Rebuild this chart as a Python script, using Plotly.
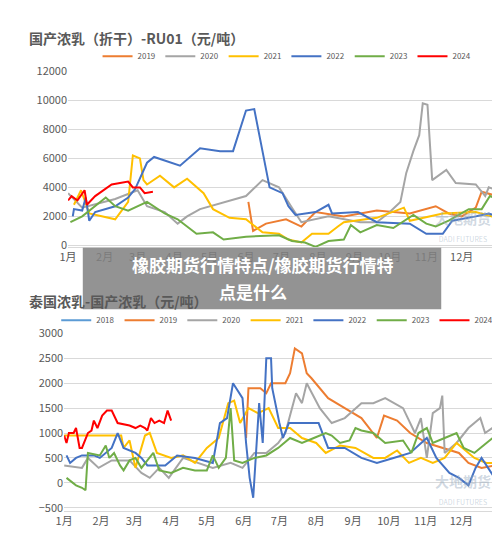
import plotly.graph_objects as go

# x = day of year, y = value
MONTH_DAYS = [0, 31, 59, 90, 120, 151, 181, 212, 243, 273, 304, 334]
MONTH_LABELS = ['1月', '2月', '3月', '4月', '5月', '6月', '7月', '8月', '9月', '10月', '11月', '12月']

COLORS = {'2018': '#5B9BD5', '2019': '#ED7D31', '2020': '#A5A5A5', '2021': '#FFC000',
          '2022': '#4472C4', '2023': '#70AD47', '2024': '#FF0000'}

# ---- top chart: 国产浓乳（折干）-RU01
top_2019_x = [153, 157, 168, 185, 198, 210, 234, 262, 290, 312, 323, 334, 346, 351, 364]
top_2019_y = [3000, 1000, 1500, 1800, 1300, 2300, 2000, 2400, 2200, 2700, 2200, 2000, 2600, 3700, 3400]
top_2020_x = [0, 12, 40, 59, 67, 82, 93, 101, 112, 129, 151, 165, 179, 190, 198, 221, 234, 248, 262,
              273, 282, 287, 293, 298, 301, 305, 309, 318, 321, 329, 346, 354, 357, 364]
top_2020_y = [3600, 2600, 3200, 3800, 2700, 2300, 1500, 2000, 2500, 2900, 3400, 4500, 4000, 2600, 1600,
              2000, 1800, 1600, 1600, 2300, 3000, 5000, 6500, 7600, 9800, 9700, 4500, 5000, 5200, 4300,
              4200, 3400, 4000, 3800]
top_2021_x = [5, 11, 18, 40, 51, 55, 61, 64, 67, 78, 90, 101, 115, 123, 137, 151, 165, 179, 187, 198,
              207, 221, 229, 234, 262, 285, 290, 318, 346, 364]
top_2021_y = [2800, 3800, 2200, 1800, 3000, 6200, 6000, 4500, 4200, 4800, 4000, 4600, 3600, 2500, 1900,
              1800, 900, 800, 400, 200, 800, 800, 1300, 1600, 1900, 2600, 1700, 2200, 2300, 1900]
top_2022_x = [4, 5, 12, 15, 18, 23, 40, 51, 57, 62, 67, 73, 95, 112, 129, 140, 151, 158, 164, 171, 182,
              187, 193, 210, 221, 224, 246, 262, 290, 304, 318, 326, 346, 357, 364]
top_2022_y = [2000, 2500, 2400, 3300, 1700, 2300, 2700, 3300, 3900, 4800, 5700, 6100, 5500, 6700, 6500,
              6500, 9300, 9400, 6800, 4000, 3600, 2700, 2100, 2300, 2800, 2200, 2300, 1600, 1500, 800,
              800, 1700, 2000, 2200, 2000]
top_2023_x = [2, 12, 32, 40, 51, 67, 82, 93, 109, 123, 132, 151, 179, 190, 201, 210, 221, 234, 240,
              248, 262, 276, 293, 304, 312, 323, 340, 351, 358, 364]
top_2023_y = [1600, 2000, 3300, 2700, 2400, 3000, 2200, 1800, 800, 900, 400, 600, 700, 300, 200, -100,
              300, 400, 1400, 900, 1400, 1200, 2100, 1500, 1300, 1700, 2500, 2500, 3400, 3200]
top_2024_x = [0, 3, 8, 14, 16, 23, 37, 51, 55, 61, 65, 72]
top_2024_y = [3100, 3400, 3100, 3800, 2800, 3400, 4200, 4400, 4000, 4000, 3600, 3700]

# ---- bottom chart: 泰国浓乳-国产浓乳
bot_2018_x = []
bot_2018_y = []
bot_2019_x = [153, 155, 165, 170, 174, 186, 190, 194, 200, 204, 208, 215, 222, 236, 250, 263, 269,
              280, 291, 305, 318, 332, 340, 351, 362]
bot_2019_y = [900, 1900, 1900, 1800, 2000, 2000, 2200, 2700, 2600, 2200, 2100, 1900, 1700, 1500, 1300,
              900, 1350, 1250, 1000, 800, 700, 600, 400, 300, 350]
bot_2020_x = [0, 15, 20, 29, 40, 55, 65, 72, 80, 88, 100, 112, 125, 140, 150, 160, 170, 180, 186, 195,
              200, 204, 215, 225, 236, 250, 260, 270, 285, 295, 300, 305, 310, 316, 318, 320, 330, 340,
              350, 354, 360, 364]
bot_2020_y = [350, 300, 500, 300, 450, 450, 200, 100, 300, 100, 500, 400, 300, 400, 300, 600, 600, 800,
              1000, 1800, 1600, 2000, 1500, 1200, 1300, 1600, 1600, 1700, 1500, 1000, 1300, 500, 1400,
              1500, 1750, 600, 800, 1100, 1300, 1000, 1100, 1000]
bot_2021_x = [0, 48, 50, 55, 60, 68, 72, 78, 90, 100, 110, 120, 130, 138, 143, 148, 155, 163, 172, 180,
              190, 200, 212, 220, 232, 245, 260, 270, 280, 290, 300, 310, 320, 330, 345, 355, 364]
bot_2021_y = [950, 950, 700, 850, 300, 950, 1000, 600, 500, 550, 400, 700, 900, 1600, 1650, 1200, 1500,
              1400, 1500, 1100, 1100, 900, 800, 600, 750, 700, 500, 500, 650, 400, 500, 400, 500, 800,
              500, 400, 400]
bot_2022_x = [2, 5, 10, 15, 25, 30, 40, 45, 50, 60, 65, 70, 85, 95, 110, 125, 131, 137, 142, 150, 153,
              156, 159, 164, 167, 170, 174, 175, 181, 184, 189, 214, 222, 236, 250, 263, 277, 291, 305,
              313, 324, 332, 340, 346, 351, 362]
bot_2022_y = [550, 400, 500, 550, 550, 500, 700, 1000, 700, 600, 500, 350, 350, 550, 500, 400, 1200,
              1300, 2000, 1700, 800, 100, -300, 1600, 800, 2500, 2500, 1900, 1200, 900, 1200, 1200, 700,
              700, 500, 400, 500, 600, 900, 500, 200, 100, -50, 300, 500, 100]
bot_2023_x = [2, 10, 15, 18, 20, 30, 35, 38, 42, 47, 50, 55, 60, 65, 70, 75, 80, 90, 100, 110, 120, 125,
              130, 136, 140, 143, 150, 160, 170, 180, 190, 200, 210, 220, 225, 232, 240, 245, 250, 260,
              270, 285, 292, 298, 305, 310, 320, 330, 336, 345, 350, 355, 363]
bot_2023_y = [100, -50, -100, -150, 600, 550, 750, 500, 600, 350, 250, 450, 500, 300, 450, 600, 250, 200,
              300, 250, 250, 550, 300, 500, 1500, 450, 400, 500, 550, 700, 900, 800, 900, 1000, 950, 800,
              850, 1100, 1050, 1000, 800, 850, 600, 1000, 1100, 800, 900, 1000, 700, 600, 700, 800, 950]
bot_2024_x = [0, 2, 4, 8, 10, 13, 15, 20, 23, 25, 28, 32, 36, 40, 45, 55, 60, 64, 68, 70, 73, 76, 80,
              84, 87, 90]
bot_2024_y = [950, 800, 1000, 1000, 1100, 700, 700, 1000, 1050, 1250, 1100, 1350, 1450, 1450, 1200, 1150,
              1100, 1150, 1100, 1050, 1300, 1200, 1250, 1200, 1450, 1250]

top_series = [('2019', top_2019_x, top_2019_y), ('2020', top_2020_x, top_2020_y),
              ('2021', top_2021_x, top_2021_y), ('2022', top_2022_x, top_2022_y),
              ('2023', top_2023_x, top_2023_y), ('2024', top_2024_x, top_2024_y)]
bot_series = [('2018', bot_2018_x, bot_2018_y), ('2019', bot_2019_x, bot_2019_y),
              ('2020', bot_2020_x, bot_2020_y), ('2021', bot_2021_x, bot_2021_y),
              ('2022', bot_2022_x, bot_2022_y), ('2023', bot_2023_x, bot_2023_y),
              ('2024', bot_2024_x, bot_2024_y)]

FONT = 'Noto Sans CJK SC'
fig = go.Figure()

for name, xs, ys in top_series:
    fig.add_trace(go.Scatter(x=xs, y=ys, mode='lines', name=name, xaxis='x', yaxis='y',
                             line=dict(color=COLORS[name], width=2), legend='legend'))
for name, xs, ys in bot_series:
    fig.add_trace(go.Scatter(x=xs if xs else [None], y=ys if ys else [None], mode='lines', name=name,
                             xaxis='x2', yaxis='y2', line=dict(color=COLORS[name], width=2),
                             legend='legend2'))

axis_font = dict(family=FONT, size=11, color='#595959')
xcommon = dict(range=[0, 365], tickvals=MONTH_DAYS, ticktext=MONTH_LABELS, showgrid=False,
               showline=True, linecolor='#d9d9d9', tickfont=axis_font, zeroline=False, ticks='')
ycommon = dict(showgrid=True, gridcolor='#d9d9d9', tickfont=axis_font, zeroline=False, ticks='',
               tickformat='d')

fig.update_layout(
    width=500, height=537, margin=dict(l=0, r=0, t=0, b=0),
    paper_bgcolor='white', plot_bgcolor='white', font=dict(family=FONT),
    xaxis=dict(domain=[0.104, 0.98], anchor='y', **xcommon),
    yaxis=dict(domain=[0.56, 0.896], range=[-120, 12000], tickvals=list(range(0, 12001, 2000)),
               anchor='x', **ycommon),
    xaxis2=dict(domain=[0.096, 0.98], anchor='y2', **xcommon),
    yaxis2=dict(domain=[0.056, 0.395], range=[-560, 3000], tickvals=list(range(-500, 3001, 500)),
                anchor='x2', **ycommon),
    legend=dict(orientation='h', x=0.55, y=0.925, xanchor='center', yanchor='middle',
                font=dict(size=8, color='#595959'), itemwidth=30, tracegroupgap=0,
                bgcolor='rgba(0,0,0,0)'),
    legend2=dict(orientation='h', x=0.53, y=0.42, xanchor='center', yanchor='middle',
                 font=dict(size=8, color='#595959'), itemwidth=30, bgcolor='rgba(0,0,0,0)'),
    showlegend=True,
)

title_font = dict(family=FONT, size=14, color='#595959')
fig.add_annotation(text='<b>国产浓乳（折干）-RU01（元/吨）</b>', x=0.02, y=1 - 22 / 537,
                   xref='paper', yref='paper', xanchor='left', yanchor='middle', showarrow=False,
                   font=title_font)
fig.add_annotation(text='<b>泰国浓乳-国产浓乳（元/吨）</b>', x=0.02, y=1 - 292 / 537,
                   xref='paper', yref='paper', xanchor='left', yanchor='middle', showarrow=False,
                   font=title_font)

# watermarks
for yy in [1 - 215 / 537, 1 - 485 / 537]:
    fig.add_annotation(text='<b>大地期货</b><br><span style="font-size:7px">DADI FUTURES</span>',
                       x=0.97, y=yy, xref='paper', yref='paper', xanchor='right', yanchor='middle',
                       showarrow=False, font=dict(family=FONT, size=14, color='rgba(150,170,190,0.45)'))

# overlay banner
fig.add_shape(type='rect', xref='paper', yref='paper', x0=67 / 500, x1=432 / 500,
              y0=1 - 300 / 537, y1=1 - 237 / 537, fillcolor='rgba(128,128,128,0.85)', line_width=0,
              layer='above')
fig.add_annotation(text='<b>橡胶期货行情特点/橡胶期货行情特</b>', x=0.5, y=1 - 254 / 537,
                   xref='paper', yref='paper', showarrow=False,
                   font=dict(family=FONT, size=17, color='white'))
fig.add_annotation(text='<b>点是什么</b>', x=0.48, y=1 - 282 / 537, xref='paper', yref='paper',
                   showarrow=False, font=dict(family=FONT, size=17, color='white'))

fig.write_html('out.html')
